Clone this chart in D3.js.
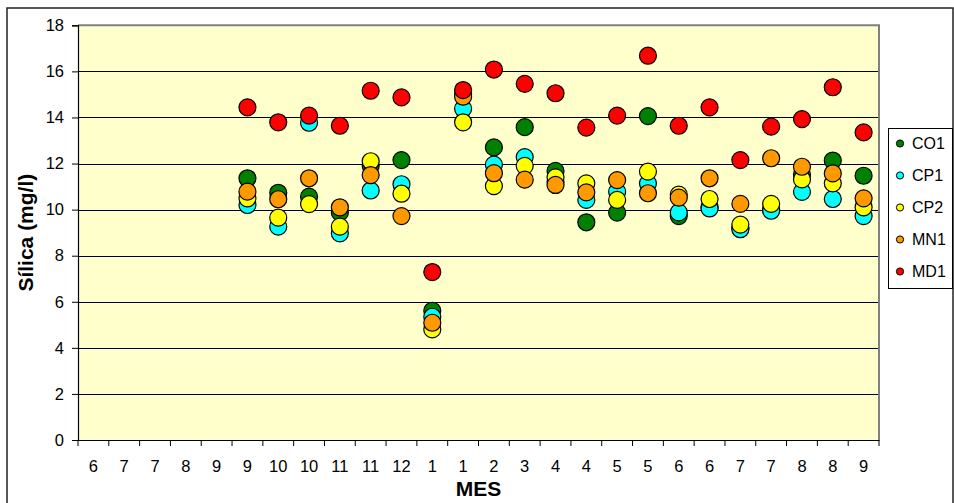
<!DOCTYPE html>
<html>
<head>
<meta charset="utf-8">
<script src="https://cdn.jsdelivr.net/npm/d3@7"></script>
<style>
  html, body { margin: 0; padding: 0; background: #fff; }
  svg { display: block; font-family: Arial, "Liberation Sans", sans-serif; }
</style>
</head>
<body>
<svg id="chart" width="954" height="503"></svg>
<script>
const months = ["6","7","7","8","9","9","10","10","11","11","12","1","1","2","3","4","4","5","5","6","6","7","7","8","8","9"];
const seriesNames = ["CO1","CP1","CP2","MN1","MD1"];
const seriesColors = ["#008000","#00FFFF","#FFFF00","#FF9900","#FF0000"];
const CO1 = [null,null,null,null,null,11.36,10.73,10.56,9.88,11.9,12.15,5.61,15.0,12.7,13.58,11.68,9.45,9.87,14.06,9.72,10.1,9.2,10.0,11.52,12.13,11.47];
const CP1 = [null,null,null,null,null,10.2,9.26,13.77,8.97,10.83,11.1,5.35,14.38,11.95,12.28,11.2,10.42,10.78,11.14,9.88,10.05,9.15,9.95,10.77,10.46,9.72];
const CP2 = [null,null,null,null,null,10.49,9.65,10.24,9.26,12.1,10.69,4.8,13.79,11.02,11.9,11.4,11.14,10.42,11.65,10.65,10.46,9.35,10.25,11.31,11.14,10.1];
const MN1 = [null,null,null,null,null,10.78,10.45,11.36,10.1,11.5,9.72,5.09,14.9,11.58,11.3,11.07,10.75,11.28,10.71,10.52,11.36,10.25,12.23,11.86,11.57,10.49];
const MD1 = [null,null,null,null,null,14.44,13.79,14.08,13.64,15.16,14.87,7.29,15.19,16.08,15.46,15.05,13.56,14.08,16.68,13.64,14.44,12.15,13.6,13.93,15.31,13.35];
const yTicks = [0,2,4,6,8,10,12,14,16,18];
const seriesData = [CO1, CP1, CP2, MN1, MD1];

const svg = d3.select("#chart");
const L = 78, R = 879, T = 25.3, B = 440;

// outer frame
svg.append("rect").attr("x", 7).attr("y", 8).attr("width", 946).attr("height", 510)
  .attr("fill", "#fff").attr("stroke", "#222").attr("stroke-width", 1.5);

const idx = months.map((m, i) => i);
const x = d3.scaleBand().domain(idx).range([L, R]).padding(0);
const y = d3.scaleLinear().domain([0, 18]).range([B, T]);

// plot background
svg.append("rect").attr("x", L).attr("y", T).attr("width", R - L).attr("height", B - T)
  .attr("fill", "#FFFFCC");

// gridlines
svg.append("g").selectAll("line").data(yTicks.filter(t => t > 0 && t < 18)).join("line")
  .attr("x1", L).attr("x2", R).attr("y1", d => Math.round(y(d)) + 0.5).attr("y2", d => Math.round(y(d)) + 0.5)
  .attr("stroke", "#000").attr("stroke-width", 1);

// plot border top/right grey
svg.append("path")
  .attr("d", `M${L},${T}H${R}V${B}`)
  .attr("fill", "none").attr("stroke", "#808080").attr("stroke-width", 2);

// y axis
const yAxis = d3.axisLeft(y).tickValues(yTicks).tickSize(6).tickPadding(8).tickFormat(d3.format("d"));
const gy = svg.append("g").attr("transform", `translate(${L},0)`).call(yAxis);
gy.select(".domain").attr("stroke", "#000").attr("stroke-width", 1.2);
gy.selectAll(".tick line").attr("stroke", "#000");
gy.selectAll(".tick text").attr("font-size", 16.5).attr("fill", "#000")
  .attr("font-family", "Arial, 'Liberation Sans', sans-serif");

// x axis
const xAxis = d3.axisBottom(x).tickFormat(i => months[i]).tickSize(0).tickPadding(20);
const gx = svg.append("g").attr("transform", `translate(0,${B})`).call(xAxis);
gx.select(".domain").attr("stroke", "#000").attr("stroke-width", 1.2);
gx.selectAll(".tick text").attr("font-size", 16.5).attr("fill", "#000")
  .attr("font-family", "Arial, 'Liberation Sans', sans-serif");
// category boundary ticks
const bounds = idx.map(i => x(i)).concat([R]);
gx.append("g").selectAll("line").data(bounds).join("line")
  .attr("x1", d => d).attr("x2", d => d).attr("y1", 0).attr("y2", 6)
  .attr("stroke", "#000").attr("stroke-width", 1);

// points
seriesData.forEach((arr, s) => {
  svg.append("g").selectAll("circle")
    .data(arr.map((v, i) => ({ i, v })).filter(d => d.v !== null))
    .join("circle")
    .attr("cx", d => x(d.i) + x.bandwidth() / 2)
    .attr("cy", d => y(d.v))
    .attr("r", 8.5)
    .attr("fill", seriesColors[s])
    .attr("stroke", "#000").attr("stroke-width", 1.2);
});

// axis titles
svg.append("text").attr("transform", `translate(33,${(T + B) / 2}) rotate(-90)`)
  .attr("text-anchor", "middle").attr("font-weight", "bold").attr("font-size", 21)
  .text("Sílica (mg/l)");
svg.append("text").attr("x", (L + R) / 2).attr("y", 496)
  .attr("text-anchor", "middle").attr("font-weight", "bold").attr("font-size", 21)
  .text("MES");

// legend
const lg = svg.append("g");
lg.append("rect").attr("x", 888.5).attr("y", 128.5).attr("width", 64).attr("height", 160)
  .attr("fill", "#fff").attr("stroke", "#000").attr("stroke-width", 1);
const ly = d3.scalePoint().domain(seriesNames).range([143.5, 271.5]);
seriesNames.forEach((n, s) => {
  lg.append("circle").attr("cx", 900).attr("cy", ly(n)).attr("r", 3.6)
    .attr("fill", seriesColors[s]).attr("stroke", "#000").attr("stroke-width", 1);
  lg.append("text").attr("x", 912).attr("y", ly(n)).attr("dy", "0.36em")
    .attr("font-size", 16).text(n);
});
</script>
</body>
</html>
